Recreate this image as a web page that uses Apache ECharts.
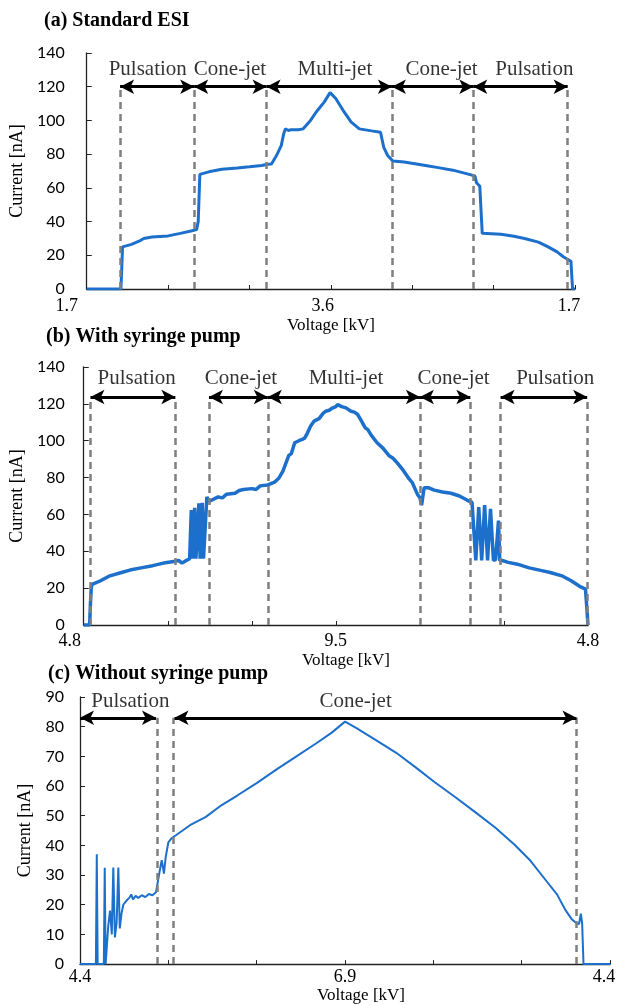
<!DOCTYPE html>
<html lang="en">
<head>
    <meta charset="UTF-8">
    <title>ESI current vs voltage</title>
</head>
<style>
    body{
        margin: 0;
        padding: 0;
        background-color: #fff;
    }
    .main{
        width: 620px;
        height: 1005px;
    }
</style>
<body>
    <div class="main"></div>
</body>
<script src="https://cdn.jsdelivr.net/npm/echarts/dist/echarts.min.js"></script>
<script>
  // x = step along the voltage sweep (up then back down), 0..6 between the labelled ticks
  // (a) standard ESI
  var aTicks = ['1.7', '', '', '3.6', '', '', '1.7'];
  var aTrace = [[0,0],[0.42,0],[0.43,12],[0.44,25],[0.55,26.5],[0.65,28.5],[0.7,30],[0.8,30.8],[1.0,31.5],
    [1.15,33],[1.28,34.4],[1.35,35.2],[1.37,40],[1.39,68],[1.5,69.5],[1.66,71],[1.85,71.8],[2.0,72.5],
    [2.15,73.3],[2.22,74],[2.27,74.2],[2.33,79],[2.39,85],[2.42,92],[2.44,95],[2.48,94],[2.51,94.5],
    [2.6,94.5],[2.66,95],[2.75,100],[2.82,105],[2.92,111],[2.99,116.5],[3.02,115],[3.06,113],[3.15,106],
    [3.25,99],[3.35,95],[3.5,93.8],[3.61,93],[3.63,92],[3.65,84],[3.7,79],[3.76,76],[3.9,75.3],[4.07,74],
    [4.2,73],[4.32,72],[4.5,70.5],[4.7,68],[4.77,67],[4.79,63],[4.83,61],[4.85,60],[4.86,33],[5.09,32.5],
    [5.25,31.3],[5.38,30],[5.55,27.8],[5.67,25],[5.78,22],[5.86,19],[5.95,16.5],[5.97,0],[6.0,0]];
  var aBounds = [0.41, 1.32, 2.21, 3.75, 4.75, 5.91];
  var aModes = ['Pulsation', 'Cone-jet', 'Multi-jet', 'Cone-jet', 'Pulsation'];
  var aSpans = [[0.41,1.32],[1.32,2.21],[2.21,3.75],[3.75,4.75],[4.75,5.91]];
  var aLabelX = [0.75, 1.76, 3.05, 4.36, 5.5];

  // (b) with syringe pump
  var bTicks = ['4.8', '', '', '9.5', '', '', '4.8'];
  var bTrace = [[0,0],[0.07,0],[0.08,12],[0.09,20.5],[0.1,22],[0.12,21],[0.2,24],[0.3,26.5],[0.45,28.5],
    [0.55,29.8],[0.68,31],[0.82,32.2],[0.95,33.6],[1.09,34.6],[1.13,35],[1.17,33.6],[1.22,35],[1.26,36],
    [1.27,36],[1.28,62.4],[1.295,36],[1.32,63.6],[1.335,36],[1.37,66],[1.385,36],[1.41,66.3],[1.425,36],
    [1.44,36],[1.465,69.5],[1.49,67],[1.51,67.8],[1.6,69.5],[1.65,69],[1.7,71],[1.8,71.5],[1.85,73],
    [1.9,73.5],[2.0,74],[2.05,73.5],[2.1,75.5],[2.19,76],[2.27,77.5],[2.32,79.6],[2.37,83.5],[2.44,92],
    [2.47,93],[2.51,98.9],[2.56,100],[2.6,100.7],[2.63,101.5],[2.66,104],[2.7,108],[2.72,108.5],[2.74,110.6],
    [2.8,112],[2.85,115],[2.88,116],[2.92,116.5],[2.95,117.5],[3.0,118.5],[3.02,119.6],[3.07,118.5],
    [3.12,117.8],[3.18,116],[3.22,115.5],[3.26,114.2],[3.3,111],[3.35,107],[3.38,106],[3.42,103],
    [3.49,98.9],[3.56,96],[3.63,92],[3.68,90.5],[3.73,88],[3.8,84],[3.86,80],[3.91,77.2],[3.97,71],
    [4.0,69],[4.02,65],[4.03,66],[4.05,74.5],[4.1,74.5],[4.17,73.2],[4.27,72.2],[4.37,71.5],[4.47,70],
    [4.56,67.8],[4.62,66.5],[4.64,66],[4.665,35],[4.7,64],[4.735,35],[4.77,65],[4.805,35],[4.84,63],
    [4.875,35],[4.9,35.5],[4.935,56.7],[4.95,35],[4.98,35],[5.05,34],[5.16,33],[5.3,31],[5.45,29.5],
    [5.55,28.5],[5.7,26.5],[5.8,24],[5.9,21],[5.97,19.5],[5.985,10],[6.0,0]];
  var bBounds = [0.08, 1.09, 1.49, 2.19, 4.0, 4.6, 4.96, 5.99];
  var bModes = ['Pulsation', 'Cone-jet', 'Multi-jet', 'Cone-jet', 'Pulsation'];
  var bSpans = [[0.08,1.09],[1.49,2.19],[2.19,4.0],[4.0,4.6],[4.96,5.99]];
  var bLabelX = [0.63, 1.87, 3.12, 4.4, 5.61];

  // (c) without syringe pump
  var cTicks = ['4.4', '', '', '6.9', '', '', '4.4'];
  var cTrace = [[0,0],[0.18,0],[0.19,37],[0.2,0],[0.27,0],[0.28,32.5],[0.29,0],[0.3,0],[0.32,13],
    [0.34,18],[0.36,10],[0.377,32.5],[0.395,9],[0.415,14],[0.434,32.5],[0.45,12],[0.47,17],[0.49,20],
    [0.51,19.5],[0.53,21.5],[0.56,22.4],[0.58,23.5],[0.6,21.8],[0.63,23],[0.66,22.3],[0.7,23.2],
    [0.74,22.6],[0.78,23.6],[0.82,23.2],[0.86,24.2],[0.87,24.5],[0.88,23.8],[0.9,31],[0.925,35],
    [0.94,32.5],[0.95,30.5],[0.97,36],[1.0,41],[1.04,42.5],[1.09,43.5],[1.245,46.8],[1.425,49.6],
    [1.6,53.5],[1.78,56.8],[2.0,61],[2.23,65.7],[2.45,70],[2.68,74.5],[2.85,78],[3.0,81.7],[3.13,79.5],
    [3.35,75.5],[3.58,71.2],[3.8,66.3],[4.02,61.2],[4.25,56.2],[4.47,51.3],[4.7,46],[4.92,40.2],
    [5.1,34.8],[5.28,28],[5.4,23.5],[5.5,18],[5.57,15],[5.62,13.8],[5.65,13.5],[5.67,17],[5.685,13.6],
    [5.7,0],[6.0,0]];
  var cBounds = [0.88, 1.05, 5.62];
  var cModes = ['Pulsation', 'Cone-jet'];
  var cSpans = [[0,0.86],[1.07,5.62]];
  var cLabelX = [0.57, 3.12];

  var BLUE = '#1c6fcb';
  var SERIF = '"Liberation Serif", "Times New Roman", serif';
  var SANS = 'Lato, "Liberation Sans", sans-serif';

  var panels = [
    { title: '(a) Standard ESI', titleLeft: 44, titleTop: 11,
      trace: aTrace, ticks: aTicks, bounds: aBounds, modes: aModes, spans: aSpans, labelX: aLabelX,
      yMax: 140, yStep: 20, arrowY: 120, labelY: 130, dashTop: 120, lineW: 3,
      grid: { left: 81, top: 53, width: 494, height: 236 },
      xGap: 28, xMargin: 8, xNamePad: 0, yGap: 52, yMargin: 22, shift: [20, 0, 0, 8, 0, 0, 6] },
    { title: '(b) With syringe pump', titleLeft: 46, titleTop: 327,
      trace: bTrace, ticks: bTicks, bounds: bBounds, modes: bModes, spans: bSpans, labelX: bLabelX,
      yMax: 140, yStep: 20, arrowY: 123.7, labelY: 134, dashTop: 123, lineW: 3.5,
      grid: { left: 81, top: 367, width: 507, height: 258 },
      xGap: 27, xMargin: 7, xNamePad: 20, yGap: 50, yMargin: 19, shift: [14, 0, 0, 0, 0, 0, 0] },
    { title: '(c) Without syringe pump', titleLeft: 48, titleTop: 664,
      trace: cTrace, ticks: cTicks, bounds: cBounds, modes: cModes, spans: cSpans, labelX: cLabelX,
      yMax: 90, yStep: 10, arrowY: 83, labelY: 88.5, dashTop: 83, lineW: 2,
      grid: { left: 80, top: 697, width: 530, height: 271 },
      xGap: 21, xMargin: 4, xNamePad: 32, yGap: 41, yMargin: 16, shift: [0, 0, 0, 0, 0, 0, 6] }
  ];

  var myChart = echarts.init(document.querySelector('.main'));

  var titles = [], grids = [], xAxes = [], yAxes = [], series = [];

  panels.forEach(function (p, i) {
    titles.push({
      text: p.title, left: p.titleLeft, top: p.titleTop, padding: 0,
      textStyle: { fontFamily: SERIF, fontWeight: 'bold', fontSize: 20, color: '#000' }
    });
    grids.push(p.grid);

    // shift some tick labels to the left like the original
    var rich = {};
    p.shift.forEach(function (s, k) {
      rich['s' + k] = { fontFamily: SERIF, fontSize: 18, color: '#000', padding: [0, 2 * s, 0, 0] };
    });
    xAxes.push({
      type: 'value', gridIndex: i, min: 0, max: 6, interval: 1,
      name: 'Voltage [kV]', nameLocation: 'middle', nameGap: p.xGap,
      nameTextStyle: { fontFamily: SERIF, fontSize: 17, color: '#000', padding: [0, 0, 0, p.xNamePad] },
      axisLine: { lineStyle: { color: '#222', width: 1.3 } },
      axisTick: { inside: true, length: 4, lineStyle: { color: '#222' } },
      splitLine: { show: false },
      axisLabel: {
        margin: p.xMargin, fontFamily: SERIF, fontSize: 18, color: '#000',
        showMinLabel: true, showMaxLabel: true, rich: rich,
        formatter: function (v) {
          var k = Math.round(v);
          var t = p.ticks[k];
          if (!t) return '';
          return '{s' + k + '|' + t + '}';
        }
      }
    });
    yAxes.push({
      type: 'value', gridIndex: i, min: 0, max: p.yMax, interval: p.yStep,
      name: 'Current [nA]', nameLocation: 'middle', nameGap: p.yGap, nameRotate: 90,
      nameTextStyle: { fontFamily: SERIF, fontSize: 18, color: '#000' },
      axisLine: { show: true, lineStyle: { color: '#222', width: 1.3 } },
      axisTick: { show: true, inside: true, length: 5, lineStyle: { color: '#222' } },
      splitLine: { show: false },
      axisLabel: { margin: p.yMargin, fontFamily: SANS, fontSize: 16, color: '#000' }
    });

    // dashed mode boundaries
    series.push({
      type: 'line', xAxisIndex: i, yAxisIndex: i, data: [], z: 1,
      markLine: {
        silent: true, symbol: 'none', animation: false, label: { show: false },
        lineStyle: { color: '#7f7f7f', type: [7, 5], width: 2.5 },
        data: p.bounds.map(function (x) {
          return [{ coord: [x, 0] }, { coord: [x, p.dashTop] }];
        })
      }
    });
    // measured current
    series.push({
      type: 'line', xAxisIndex: i, yAxisIndex: i, data: p.trace, z: 3,
      showSymbol: false, symbol: 'none',
      lineStyle: { color: BLUE, width: p.lineW }, itemStyle: { color: BLUE }
    });
    // double arrows for each mode
    series.push({
      type: 'line', xAxisIndex: i, yAxisIndex: i, data: [], z: 4,
      markLine: {
        silent: true, symbol: ['arrow', 'arrow'], symbolSize: [11, 14], animation: false,
        label: { show: false },
        lineStyle: { color: '#000', type: 'solid', width: 3 },
        data: p.spans.map(function (s) {
          return [{ coord: [s[0], p.arrowY] }, { coord: [s[1], p.arrowY] }];
        })
      }
    });
    // mode names
    series.push({
      type: 'scatter', xAxisIndex: i, yAxisIndex: i, z: 5, silent: true,
      symbolSize: 1, itemStyle: { color: 'rgba(0,0,0,0)' },
      data: p.modes.map(function (m, k) { return [p.labelX[k], p.labelY, m]; }),
      label: {
        show: true, position: 'inside', color: '#000', fontFamily: SERIF, fontSize: 21,
        formatter: function (q) { return q.value[2]; }
      }
    });
  });

  var option = {
    animation: false,
    backgroundColor: '#fff',
    title: titles,
    grid: grids,
    xAxis: xAxes,
    yAxis: yAxes,
    series: series
  };
  myChart.setOption(option);
</script>
</html>
